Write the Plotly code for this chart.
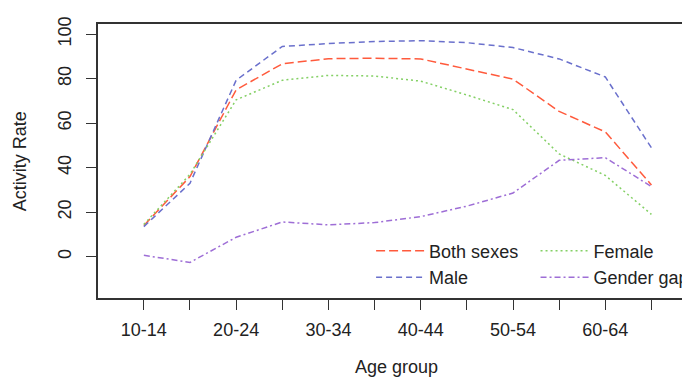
import plotly.graph_objects as go

age_groups = ["10-14", "15-19", "20-24", "25-29", "30-34", "35-39",
              "40-44", "45-49", "50-54", "55-59", "60-64", "65+"]
tick_labels = ["10-14", "", "20-24", "", "30-34", "", "40-44", "", "50-54", "", "60-64", ""]

both_sexes = [14.0, 36.0, 75.0, 86.7, 89.0, 89.2, 88.9, 84.5, 79.8, 65.3, 56.1, 32.2]
male = [13.5, 33.0, 79.3, 94.5, 95.8, 96.7, 97.1, 96.2, 94.0, 88.9, 80.8, 48.9]
female = [14.5, 37.0, 70.5, 79.3, 81.5, 81.2, 78.9, 72.7, 66.1, 46.2, 36.5, 19.0]
gender_gap = [0.6, -2.6, 8.7, 15.6, 14.3, 15.3, 18.0, 22.7, 28.6, 43.3, 44.5, 31.5]

y_ticks = [0, 20, 40, 60, 80, 100]

FONT = "Liberation Sans, Arial, Helvetica, sans-serif"
TXT = "#222222"
AX = "#333333"
FS = 18

series = [
    ("Both sexes", both_sexes, "#FF5A3C", "9px,4px", "legend"),
    ("Male", male, "#6A70CC", "6px,4px", "legend"),
    ("Female", female, "#84D065", "2px,3px", "legend2"),
    ("Gender gap", gender_gap, "#9E6ED6", "6px,3px,2px,3px", "legend2"),
]

fig = go.Figure()
for name, vals, color, dash, lg in series:
    fig.add_trace(go.Scatter(
        x=list(range(len(age_groups))), y=vals, name=name, mode="lines",
        line=dict(color=color, width=1.5, dash=dash), legend=lg,
    ))

# the page body adds an 8px offset; work in reference coords and shift
OFF = 8
W, H = 700, 371
left, top, bottom, right = 98 - OFF, 18 - OFF, 297.7 - OFF, 699 - OFF
ml, mt, mb, mr = left, top, H - bottom, W - right
pw = right - left
ph = bottom - top
step = 46.3
x0 = -(144 - 98) / step
x1 = (699 - 144) / step


def px_x(ref_x):
    return (ref_x - OFF - left) / pw


def px_y(ref_y):
    return 1 - (ref_y - OFF - top) / ph


fig.update_layout(
    width=W, height=H,
    margin=dict(l=ml, r=mr, t=mt, b=mb),
    paper_bgcolor="white", plot_bgcolor="white",
    font=dict(family=FONT, size=FS, color=TXT),
    xaxis=dict(
        range=[x0, x1], tickmode="array",
        tickvals=list(range(len(age_groups))), ticktext=tick_labels,
        ticks="outside", ticklen=10, tickwidth=1.3, tickcolor=AX,
        showline=True, linecolor=AX, linewidth=1.5, mirror=True,
        showgrid=False, zeroline=False, ticklabelstandoff=5,
        tickfont=dict(size=FS, color=TXT),
    ),
    yaxis=dict(
        range=[-18.6, 104.6], tickmode="array", tickvals=y_ticks,
        ticktext=[str(v) for v in y_ticks], tickangle=-90,
        ticks="outside", ticklen=10, tickwidth=1.3, tickcolor=AX,
        showline=True, linecolor=AX, linewidth=1.5, mirror=True,
        showgrid=False, zeroline=False, ticklabelstandoff=8,
        tickfont=dict(size=FS, color=TXT),
    ),
    legend=dict(
        x=px_x(372), y=px_y(231), xanchor="left", yanchor="top",
        bgcolor="rgba(0,0,0,0)", borderwidth=0, itemwidth=48,
        font=dict(size=FS, color=TXT), tracegroupgap=0,
    ),
    legend2=dict(
        x=px_x(537), y=px_y(231), xanchor="left", yanchor="top",
        bgcolor="rgba(0,0,0,0)", borderwidth=0, itemwidth=48,
        font=dict(size=FS, color=TXT), tracegroupgap=0,
    ),
    annotations=[
        dict(text="Age group", xref="paper", yref="paper",
             x=px_x(397), y=px_y(368),
             xanchor="center", yanchor="middle", showarrow=False,
             font=dict(size=FS, color=TXT)),
        dict(text="Activity Rate", xref="paper", yref="paper",
             x=px_x(20), y=0.5, textangle=-90,
             xanchor="center", yanchor="middle", showarrow=False,
             font=dict(size=FS, color=TXT)),
    ],
)

fig.write_html("out.html")
